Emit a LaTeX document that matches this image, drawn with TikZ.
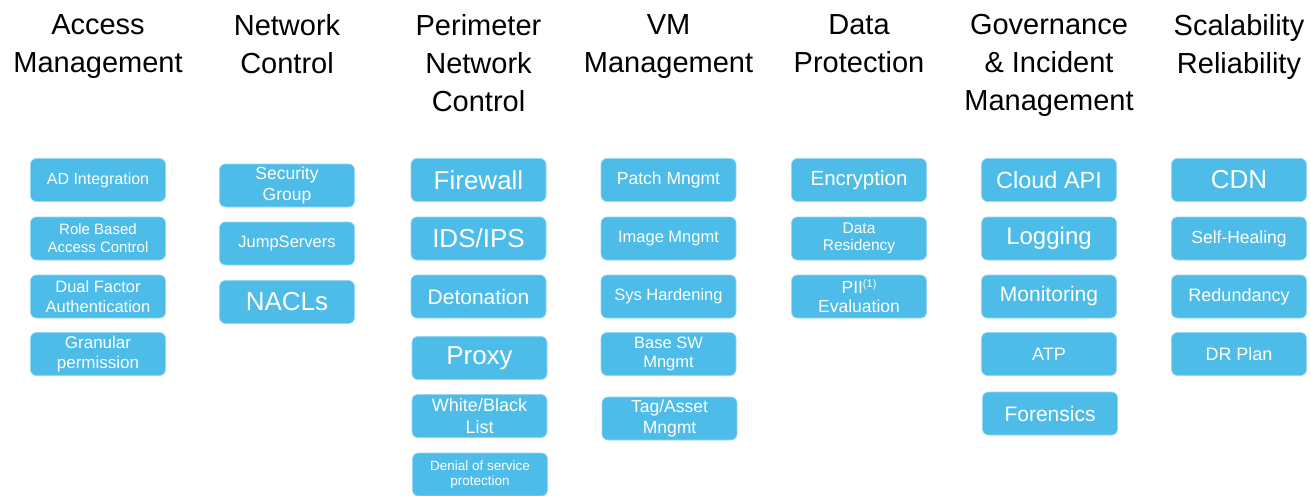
\documentclass[tikz,border=0pt]{standalone}
\usepackage{fontspec}
\setmainfont{Liberation Sans}
\definecolor{pillarblue}{RGB}{78,188,232}
\definecolor{pillaredge}{RGB}{150,214,240}
\begin{document}
\begin{tikzpicture}[x=1pt, y=-1pt,
  head/.style={anchor=north, inner sep=0pt, align=center, text=black,
    font=\fontsize{29}{38}\selectfont},
  pillar/.style={rectangle, rounded corners=6pt, fill=pillarblue, draw=pillaredge,
    line width=0.6pt, text=white, align=center, inner sep=0pt,
    minimum width=135pt, minimum height=43pt},
  sz/.style 2 args={font=\fontsize{#1}{#2}\selectfont}]
% page frame, one unit per pixel
\fill[white] (0,0) rectangle (1311,495);
\useasboundingbox (0,0) rectangle (1311,495);
% Access Management
\node[head] (hAccess) at (98,14.5) {Access\\Management};
\node[pillar, sz={16}{19}] (adInt) at (98,180) {AD Integration};
\node[pillar, sz={15}{18}] (rbac) at (98,238.5) {Role Based\\Access Control};
\node[pillar, sz={16.5}{20}] (dualFactor) at (98,296.5) {Dual Factor\\Authentication};
\node[pillar, sz={17}{20}] (granular) at (98,354) {Granular\\permission};
% Network Control
\node[head] (hNetwork) at (287,14.5) {Network\\Control};
\node[pillar, sz={17.5}{21}] (secGroup) at (287,185.5) {Security\\Group};
\node[pillar, sz={16.5}{20}] (jumpSrv) at (287,243.5) {JumpServers};
\node[pillar, sz={26}{30}] (nacls) at (287,302) {NACLs};
% Perimeter Network Control
\node[head] (hPerimeter) at (478.5,14.5) {Perimeter\\Network\\Control};
\node[pillar, sz={26}{30}] (firewall) at (478.5,180) {Firewall};
\node[pillar, sz={26}{30}] (idsIps) at (478.5,238.5) {IDS/IPS};
\node[pillar, sz={21}{25}] (detonation) at (478.5,296.5) {Detonation};
\node[pillar, sz={26}{30}] (proxy) at (479.5,358) {Proxy};
\node[pillar, sz={18}{21.5}] (wbList) at (479.5,416) {White/Black\\List};
\node[pillar, sz={13.5}{15.5}] (dos) at (480,474.5) {Denial of service\\protection};
% VM Management
\node[head] (hVM) at (668.5,14.5) {VM\\Management};
\node[pillar, sz={17.5}{21}] (patch) at (668.5,180) {Patch Mngmt};
\node[pillar, sz={16.5}{20}] (image) at (668.5,238.5) {Image Mngmt};
\node[pillar, sz={16.5}{20}] (sysHard) at (668.5,296.5) {Sys Hardening};
\node[pillar, sz={16.5}{19}] (baseSW) at (668.5,354) {Base SW\\Mngmt};
\node[pillar, sz={17.5}{21.5}] (tagAsset) at (669.5,418.5) {Tag/Asset\\Mngmt};
% Data Protection
\node[head] (hData) at (859,14.5) {Data\\Protection};
\node[pillar, sz={20.5}{24}] (encrypt) at (859,180) {Encryption};
\node[pillar, sz={15.5}{17.5}] (residency) at (859,238.5) {Data\\Residency};
\node[pillar, sz={17.5}{19}] (pii) at (859,296.5) {PII{\fontsize{11}{11}\selectfont\raisebox{6pt}{(1)}}\\Evaluation};
% Governance & Incident Management
\node[head] (hGov) at (1049,14.5) {Governance\\\& Incident\\Management};
\node[pillar, sz={23.5}{28}] (cloudApi) at (1049,180) {Cloud API};
\node[pillar, sz={24}{28}] (logging) at (1049,238.5) {Logging};
\node[pillar, sz={21}{25}] (monitoring) at (1049,296.5) {Monitoring};
\node[pillar, sz={18}{21}] (atp) at (1049,354) {ATP};
\node[pillar, sz={21}{25}] (forensics) at (1050,413.5) {Forensics};
% Scalability Reliability
\node[head] (hScale) at (1239,14.5) {Scalability\\Reliability};
\node[pillar, sz={26}{30}] (cdn) at (1239,180) {CDN};
\node[pillar, sz={17.5}{21}] (selfHeal) at (1239,238.5) {Self-Healing};
\node[pillar, sz={18}{21}] (redundancy) at (1239,296.5) {Redundancy};
\node[pillar, sz={18}{21}] (drPlan) at (1239,354) {DR Plan};
\end{tikzpicture}
\end{document}
